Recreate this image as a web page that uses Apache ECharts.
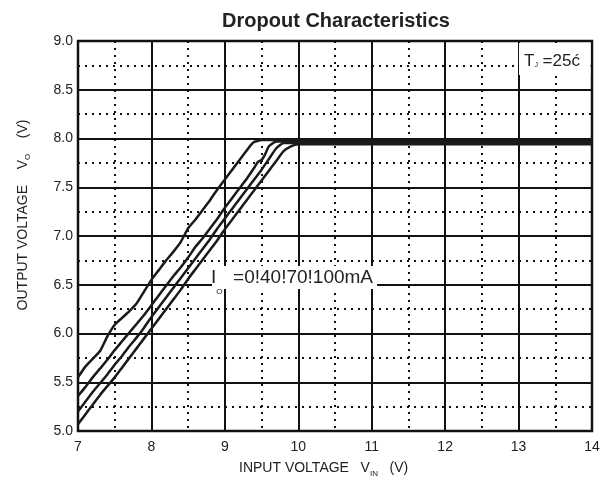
<!DOCTYPE html>
<html>
<head>
<meta charset="utf-8">
<title>Dropout Characteristics</title>
<script src="https://cdn.jsdelivr.net/npm/echarts@6/dist/echarts.min.js"></script>
<style>
html, body { margin: 0; padding: 0; background: #fff; }
#chart { width: 614px; height: 484px; }
</style>
</head>
<body>
<div id="chart"></div>
<script>
// Io = 0 mA
var vin0  = [7.0, 7.1, 7.2, 7.3, 7.4, 7.5, 7.6, 7.7, 7.8, 7.9, 8.0, 8.1, 8.2, 8.3, 8.4, 8.5, 8.6, 8.7, 8.8, 8.9, 9.0, 9.1, 9.2, 9.3, 9.35, 9.4, 9.5, 14];
var vout0 = [5.55, 5.66, 5.74, 5.82, 5.97, 6.09, 6.16, 6.23, 6.31, 6.43, 6.55, 6.65, 6.75, 6.84, 6.94, 7.08, 7.17, 7.27, 7.37, 7.48, 7.58, 7.68, 7.78, 7.88, 7.93, 7.965, 7.985, 7.985];
// Io = 40 mA
var vin1  = [7.0, 7.1, 7.2, 7.3, 7.4, 7.5, 7.6, 7.7, 7.8, 7.9, 8.0, 8.1, 8.2, 8.3, 8.4, 8.5, 8.6, 8.7, 8.8, 8.9, 9.0, 9.1, 9.2, 9.3, 9.4, 9.45, 9.5, 9.55, 9.6, 9.7, 14];
var vout1 = [5.36, 5.45, 5.55, 5.64, 5.73, 5.83, 5.92, 6.01, 6.10, 6.19, 6.29, 6.39, 6.49, 6.59, 6.68, 6.78, 6.89, 6.98, 7.08, 7.18, 7.29, 7.39, 7.49, 7.59, 7.70, 7.76, 7.78, 7.84, 7.92, 7.97, 7.97];
// Io = 70 mA
var vin2  = [7.0, 7.1, 7.2, 7.3, 7.4, 7.5, 7.6, 7.7, 7.8, 7.9, 8.0, 8.1, 8.2, 8.3, 8.4, 8.5, 8.6, 8.7, 8.8, 8.9, 9.0, 9.1, 9.2, 9.3, 9.4, 9.5, 9.6, 9.7, 9.8, 14];
var vout2 = [5.20, 5.30, 5.40, 5.49, 5.58, 5.68, 5.77, 5.87, 5.96, 6.06, 6.17, 6.27, 6.37, 6.47, 6.57, 6.67, 6.77, 6.87, 6.97, 7.08, 7.18, 7.28, 7.38, 7.48, 7.58, 7.68, 7.79, 7.90, 7.955, 7.955];
// Io = 100 mA
var vin3  = [7.0, 7.1, 7.2, 7.3, 7.4, 7.5, 7.6, 7.7, 7.8, 7.9, 8.0, 8.1, 8.2, 8.3, 8.4, 8.5, 8.6, 8.7, 8.8, 8.9, 9.0, 9.1, 9.2, 9.3, 9.4, 9.5, 9.6, 9.7, 9.8, 9.9, 10.0, 14];
var vout3 = [5.07, 5.17, 5.27, 5.37, 5.46, 5.55, 5.65, 5.75, 5.85, 5.95, 6.05, 6.15, 6.25, 6.35, 6.45, 6.56, 6.66, 6.76, 6.86, 6.96, 7.07, 7.17, 7.27, 7.37, 7.47, 7.57, 7.67, 7.77, 7.87, 7.92, 7.94, 7.94];

var curveNames = ['0mA', '40mA', '70mA', '100mA'];
var curveX = [vin0, vin1, vin2, vin3];
var curveY = [vout0, vout1, vout2, vout3];

var FONT = 'Liberation Sans, Arial, sans-serif';
var INK = '#1a1a1a';

function pairs(xs, ys) {
    return xs.map(function (x, i) { return [x, ys[i]]; });
}

var myChart = echarts.init(document.getElementById('chart'), null, { renderer: 'canvas' });

var series = curveNames.map(function (name, i) {
    return {
        name: name,
        type: 'line',
        data: pairs(curveX[i], curveY[i]),
        showSymbol: false,
        smooth: 0.15,
        lineStyle: { color: INK, width: 2.5 },
        z: 3
    };
});

var option = {
    animation: false,
    backgroundColor: '#fff',
    title: {
        text: 'Dropout Characteristics',
        left: 331,
        top: 6,
        textAlign: 'center',
        textStyle: { fontSize: 20, fontWeight: 'bold', color: '#222', fontFamily: FONT }
    },
    grid: {
        left: 78, right: 22, top: 41, bottom: 53,
        show: true,
        borderColor: '#111',
        borderWidth: 2.5
    },
    xAxis: {
        type: 'value',
        min: 7, max: 14, interval: 1,
        axisLine: { show: false },
        axisTick: { show: false },
        axisLabel: { fontSize: 14, color: '#222', margin: 9, fontFamily: FONT },
        splitLine: { lineStyle: { color: '#111', width: 2 } },
        minorTick: { show: false, splitNumber: 2 },
        minorSplitLine: { show: true, lineStyle: { color: '#111', width: 2, type: [2, 5] } }
    },
    yAxis: {
        type: 'value',
        min: 5, max: 9, interval: 0.5,
        axisLine: { show: false },
        axisTick: { show: false },
        axisLabel: {
            fontSize: 14, color: '#222', margin: 5, fontFamily: FONT,
            formatter: function (v) { return v.toFixed(1); }
        },
        splitLine: { lineStyle: { color: '#111', width: 2 } },
        minorTick: { show: false, splitNumber: 2 },
        minorSplitLine: { show: true, lineStyle: { color: '#111', width: 2, type: [2, 5] } }
    },
    graphic: [
        // white patch behind the load current note
        { type: 'rect', z: 50, shape: { x: 212, y: 266, width: 165, height: 23 }, style: { fill: '#fff' } },
        {
            type: 'text', z: 51, x: 211, y: 278,
            style: {
                text: 'I{s|O}  =0!40!70!100mA',
                fill: '#222', fontSize: 19, fontFamily: FONT,
                align: 'left', verticalAlign: 'middle',
                rich: { s: { fontSize: 8, fill: '#222', fontFamily: FONT, padding: [28, 0, 0, 0] } }
            }
        },
        // junction temperature note
        { type: 'rect', z: 50, shape: { x: 519, y: 43, width: 71.5, height: 32 }, style: { fill: '#fff' } },
        {
            type: 'text', z: 51, x: 524, y: 61,
            style: {
                text: 'T{s|J} =25ć',
                fill: '#222', fontSize: 17, fontFamily: FONT,
                align: 'left', verticalAlign: 'middle',
                rich: { s: { fontSize: 7, fill: '#222', fontFamily: FONT, padding: [9, 0, 0, 0] } }
            }
        },
        // axis names
        {
            type: 'text', z: 51, x: 239, y: 468,
            style: {
                text: 'INPUT VOLTAGE   V{s|IN}   (V)',
                fill: '#222', fontSize: 14, fontFamily: FONT,
                align: 'left', verticalAlign: 'middle',
                rich: { s: { fontSize: 8, fill: '#222', fontFamily: FONT, padding: [11, 0, 0, 0] } }
            }
        },
        {
            type: 'text', z: 51, x: 23, y: 215, rotation: Math.PI / 2,
            style: {
                text: 'OUTPUT VOLTAGE    V{s|O}    (V)',
                fill: '#222', fontSize: 14, fontFamily: FONT,
                align: 'center', verticalAlign: 'middle',
                rich: { s: { fontSize: 8, fill: '#222', fontFamily: FONT, padding: [10, 0, 0, 0] } }
            }
        }
    ],
    series: series
};

myChart.setOption(option);
</script>
</body>
</html>
